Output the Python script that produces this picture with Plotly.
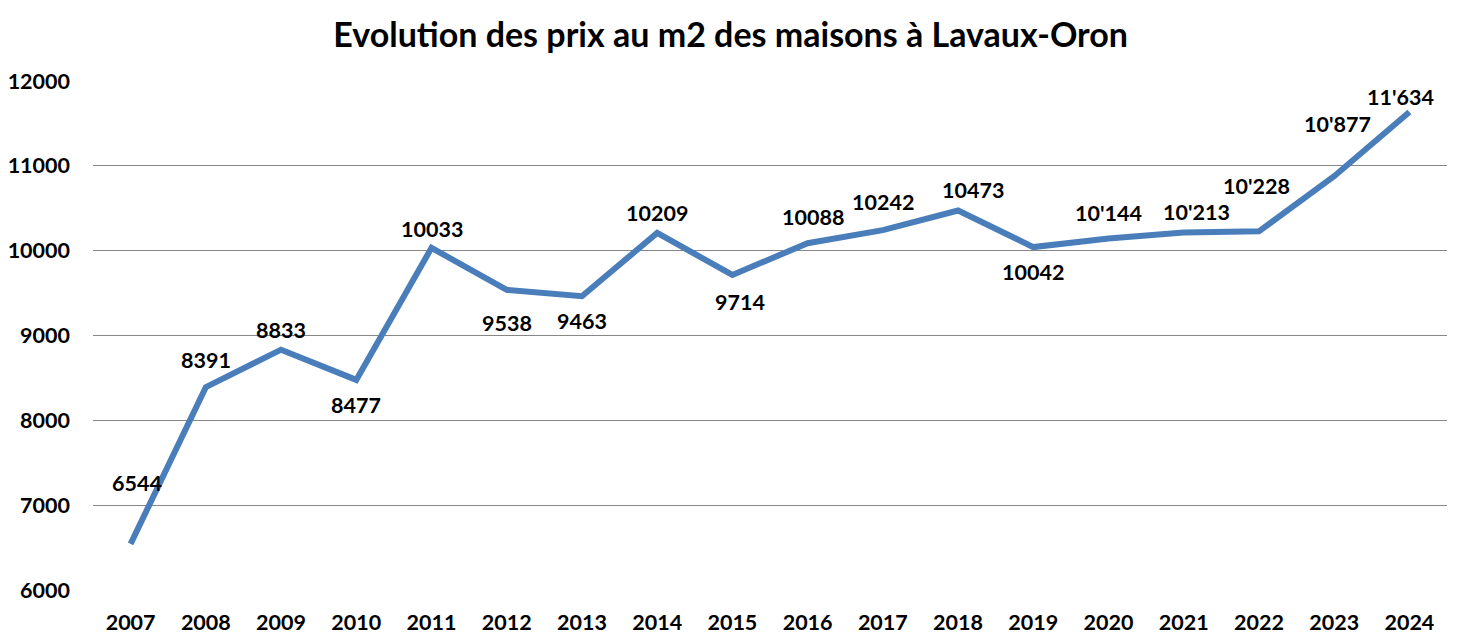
import plotly.graph_objects as go

years = ["2007", "2008", "2009", "2010", "2011", "2012", "2013", "2014", "2015",
         "2016", "2017", "2018", "2019", "2020", "2021", "2022", "2023", "2024"]
prices = [6544, 8391, 8833, 8477, 10033, 9538, 9463, 10209, 9714,
          10088, 10242, 10473, 10042, 10144, 10213, 10228, 10877, 11634]
labels = ["6544", "8391", "8833", "8477", "10033", "9538", "9463", "10209", "9714",
          "10088", "10242", "10473", "10042", "10'144", "10'213", "10'228", "10'877", "11'634"]
y_ticks = [6000, 7000, 8000, 9000, 10000, 11000, 12000]

# label offsets in pixels (layout only)
label_dx = [6, 0, 0, 0, 0, 0, 0, 0, 8, 5, 0, 15, 0, 0, 13, -2, 3, -9]
label_dy = [61, 27, 20, -25, 19, -33, -25, 20, -27, 26, 28, 21, -25, 25, 21, 45, 52, 15]

FONT = "Lato"

fig = go.Figure()
fig.add_trace(go.Scatter(
    x=years, y=prices, mode="lines",
    line=dict(color="#4A7EBB", width=6),
    hoverinfo="x+y", showlegend=False,
))

for i, (y, t, dx, dy) in enumerate(zip(prices, labels, label_dx, label_dy)):
    fig.add_annotation(x=i, y=y, text=t, showarrow=False,
                       xshift=dx, yshift=dy,
                       font=dict(family=FONT, size=21.5, color="#000000", weight="bold"))

fig.update_layout(
    width=1454, height=636,
    paper_bgcolor="white", plot_bgcolor="white",
    margin=dict(l=85, r=15, t=73, b=54, autoexpand=False),
    title=dict(text="<b>Evolution des prix au m2 des maisons à Lavaux-Oron</b>",
               x=0.497, xanchor="center", y=0.9575, yanchor="middle",
               font=dict(family=FONT, size=34, color="#000000")),
    xaxis=dict(type="category", categoryorder="array", categoryarray=years,
               range=[-0.5, len(years) - 0.5], automargin=False,
               showgrid=False, zeroline=False, showline=False,
               ticks="", ticklabelstandoff=17,
               tickfont=dict(family=FONT, size=21.5, color="#000000", weight="bold")),
    yaxis=dict(range=[6000, 12000], tickvals=y_ticks, tickformat="d", showgrid=True,
               automargin=False,
               gridcolor="#878787", gridwidth=1, zeroline=False, showline=False,
               ticks="", ticklabelstandoff=22,
               tickfont=dict(family=FONT, size=21.5, color="#000000", weight="bold")),
)

fig.write_html("out.html")
